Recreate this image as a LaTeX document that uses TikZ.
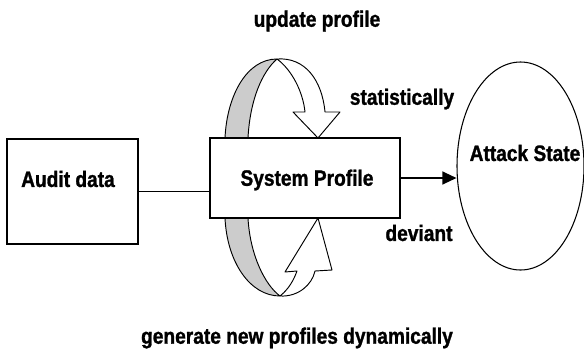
\documentclass[tikz,border=0pt]{standalone}
\usepackage{fontspec}
\setmainfont{Liberation Sans}[FakeStretch=0.86,BoldFeatures={FakeBold=1.2}]
\usepackage{tikz}
\usetikzlibrary{arrows.meta,shapes.geometric}
\tikzstyle{box} = [draw,line width=1.2pt,rectangle,inner sep=0]
\tikzstyle{lbl} = [font=\bfseries\fontsize{19}{22}\selectfont,inner sep=0]
\tikzstyle{band} = [draw,line width=0.8pt,line join=round]

\begin{document}
\begin{tikzpicture}[x=0.03cm,y=-0.03cm,post/.style={-{Triangle[length=12pt,width=11pt]},line width=1.4pt}]
    \useasboundingbox (0,0) rectangle (584,356);

    % ribbon arrow above the profile
    \filldraw[band,fill=gray!40] (225,138) .. controls (227,95) and (247,59) .. (277,59)
        .. controls (262,72) and (250,100) .. (248,138) -- cycle;
    \filldraw[band,fill=white] (277,59) .. controls (305,57) and (322,80) .. (325,112)
        -- (340,112) -- (318,138) -- (293,112) -- (305,112)
        .. controls (303,92) and (292,70) .. (277,59) -- cycle;

    % ribbon arrow below the profile
    \filldraw[band,fill=gray!40] (225,218) .. controls (227,262) and (250,296) .. (280,296)
        .. controls (265,285) and (250,255) .. (248,218) -- cycle;
    \filldraw[band,fill=white] (280,296) .. controls (298,297) and (312,285) .. (315,271)
        -- (332,270) -- (318,218) -- (285,272) -- (297,271)
        .. controls (292,285) and (285,292) .. (280,296) -- cycle;

    \node[box,minimum width=3.93cm,minimum height=3.15cm] (audit) at (72.5,191.5) {};
    \node[lbl] (auditlbl) at (68,179) {Audit data};
    \node[box,minimum width=5.7cm,minimum height=2.4cm] (sys) at (305,178) {};
    \node[lbl] (syslbl) at (307,180) {System Profile};
    \node[draw,ellipse,line width=0.9pt,minimum width=3.81cm,minimum height=6.24cm,inner sep=0] (att) at (520.5,166) {};
    \node[lbl] (attlbl) at (525,153) {Attack State};

    \node[lbl] (upd) at (317,21) {update profile};
    \node[lbl] (stat) at (402,99) {statistically};
    \node[lbl] (dev) at (419,233) {deviant};
    \node[lbl] (gen) at (297,338) {generate new profiles dynamically};

    \draw[line width=0.8pt] (audit) -- (audit -| sys.west);
    \draw[post] (sys.east) -- (sys.east -| att.west);

\end{tikzpicture}
\end{document}
